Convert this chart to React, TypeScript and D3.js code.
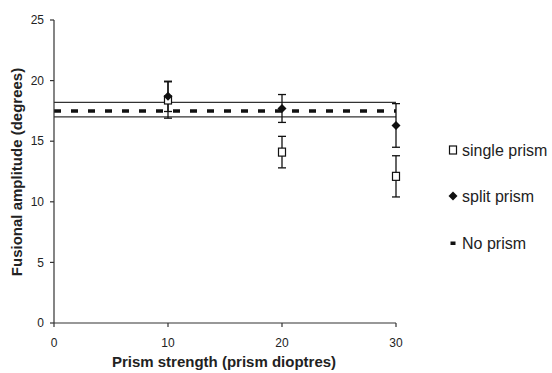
import React from "react";
import * as d3 from "d3";

const prismStrength = [10, 20, 30];
const singlePrism = [18.4, 14.1, 12.1];
const singlePrismErr = [1.5, 1.3, 1.7];
const splitPrism = [18.7, 17.7, 16.3];
const splitPrismErr = [1.25, 1.15, 1.8];
const noPrismMean = 17.5;
const noPrismUpper = 18.2;
const noPrismLower = 17.0;
const xTicks = [0, 10, 20, 30];
const yTicks = [0, 5, 10, 15, 20, 25];
const legendLabels = ["single prism", "split prism", "No prism"];

const W = 552;
const H = 373;
const FONT = "'Liberation Sans', Arial, Helvetica, sans-serif";

export default function App() {
  const x = d3.scaleLinear().domain([0, 30]).range([54, 396]);
  const y = d3.scaleLinear().domain([0, 25]).range([323, 20]);
  const cap = 4;
  const ink = "#111";

  const errBar = (xv: number, v: number, e: number, key: string) => (
    <g key={key} stroke={ink} strokeWidth={1.3}>
      <line x1={x(xv)} x2={x(xv)} y1={y(v + e)} y2={y(v - e)} />
      <line x1={x(xv) - cap} x2={x(xv) + cap} y1={y(v + e)} y2={y(v + e)} />
      <line x1={x(xv) - cap} x2={x(xv) + cap} y1={y(v - e)} y2={y(v - e)} />
    </g>
  );

  const square = (cx: number, cy: number, key: string) => (
    <rect key={key} x={cx - 3.5} y={cy - 4} width={7} height={8} fill="white" stroke={ink} strokeWidth={1.2} />
  );
  const diamond = (cx: number, cy: number, key: string) => (
    <path key={key} d={`M${cx},${cy - 4.5}L${cx + 4.5},${cy}L${cx},${cy + 4.5}L${cx - 4.5},${cy}Z`} fill={ink} />
  );

  const legendY = [150, 196, 243];
  const legendX = 453;

  return (
    <svg width={W} height={H} style={{ position: "absolute", left: 0, top: 0, background: "white" }} fontFamily={FONT}>
      {/* reference lines */}
      <line x1={x(0)} x2={x(30)} y1={y(noPrismUpper)} y2={y(noPrismUpper)} stroke="#333" strokeWidth={1.2} />
      <line x1={x(0)} x2={x(30)} y1={y(noPrismLower)} y2={y(noPrismLower)} stroke="#333" strokeWidth={1.2} />
      <line x1={x(0)} x2={x(30)} y1={y(noPrismMean)} y2={y(noPrismMean)} stroke={ink} strokeWidth={3.5} strokeDasharray="7 10" />

      {/* axes */}
      <line x1={x(0)} x2={x(0)} y1={y(0)} y2={y(25)} stroke="#333" strokeWidth={1.2} />
      <line x1={x(0)} x2={x(30)} y1={y(0)} y2={y(0)} stroke="#333" strokeWidth={1.2} />
      {yTicks.map((t) => (
        <g key={"yt" + t}>
          <line x1={x(0) - 4} x2={x(0)} y1={y(t)} y2={y(t)} stroke="#333" strokeWidth={1.2} />
          <text x={44} y={y(t)} dy="0.35em" textAnchor="end" fontSize={12} fill="#222">{t}</text>
        </g>
      ))}
      {xTicks.map((t) => (
        <g key={"xt" + t}>
          <line x1={x(t)} x2={x(t)} y1={y(0)} y2={y(0) + 4} stroke="#333" strokeWidth={1.2} />
          <text x={x(t)} y={343} dy="0.35em" textAnchor="middle" fontSize={12} fill="#222">{t}</text>
        </g>
      ))}
      <text x={224} y={362} dy="0.35em" textAnchor="middle" fontSize={15} fontWeight="bold" fill="#222">
        Prism strength (prism dioptres)
      </text>
      <text transform={`translate(17,${172}) rotate(-90)`} dy="0.35em" textAnchor="middle" fontSize={15} fontWeight="bold" fill="#222">
        Fusional amplitude (degrees)
      </text>

      {/* error bars and points */}
      {prismStrength.map((p, i) => errBar(p, singlePrism[i], singlePrismErr[i], "se" + i))}
      {prismStrength.map((p, i) => errBar(p, splitPrism[i], splitPrismErr[i], "pe" + i))}
      {prismStrength.map((p, i) => square(x(p), y(singlePrism[i]), "sq" + i))}
      {prismStrength.map((p, i) => diamond(x(p), y(splitPrism[i]), "dm" + i))}

      {/* legend */}
      {square(legendX, legendY[0], "lsq")}
      {diamond(legendX, legendY[1], "ldm")}
      <rect x={legendX - 2.5} y={legendY[2] - 1.5} width={5} height={3.5} fill={ink} />
      {legendLabels.map((l, i) => (
        <text key={l} x={legendX + 9} y={legendY[i]} dy="0.35em" fontSize={16} fill="#222">{l}</text>
      ))}
    </svg>
  );
}
